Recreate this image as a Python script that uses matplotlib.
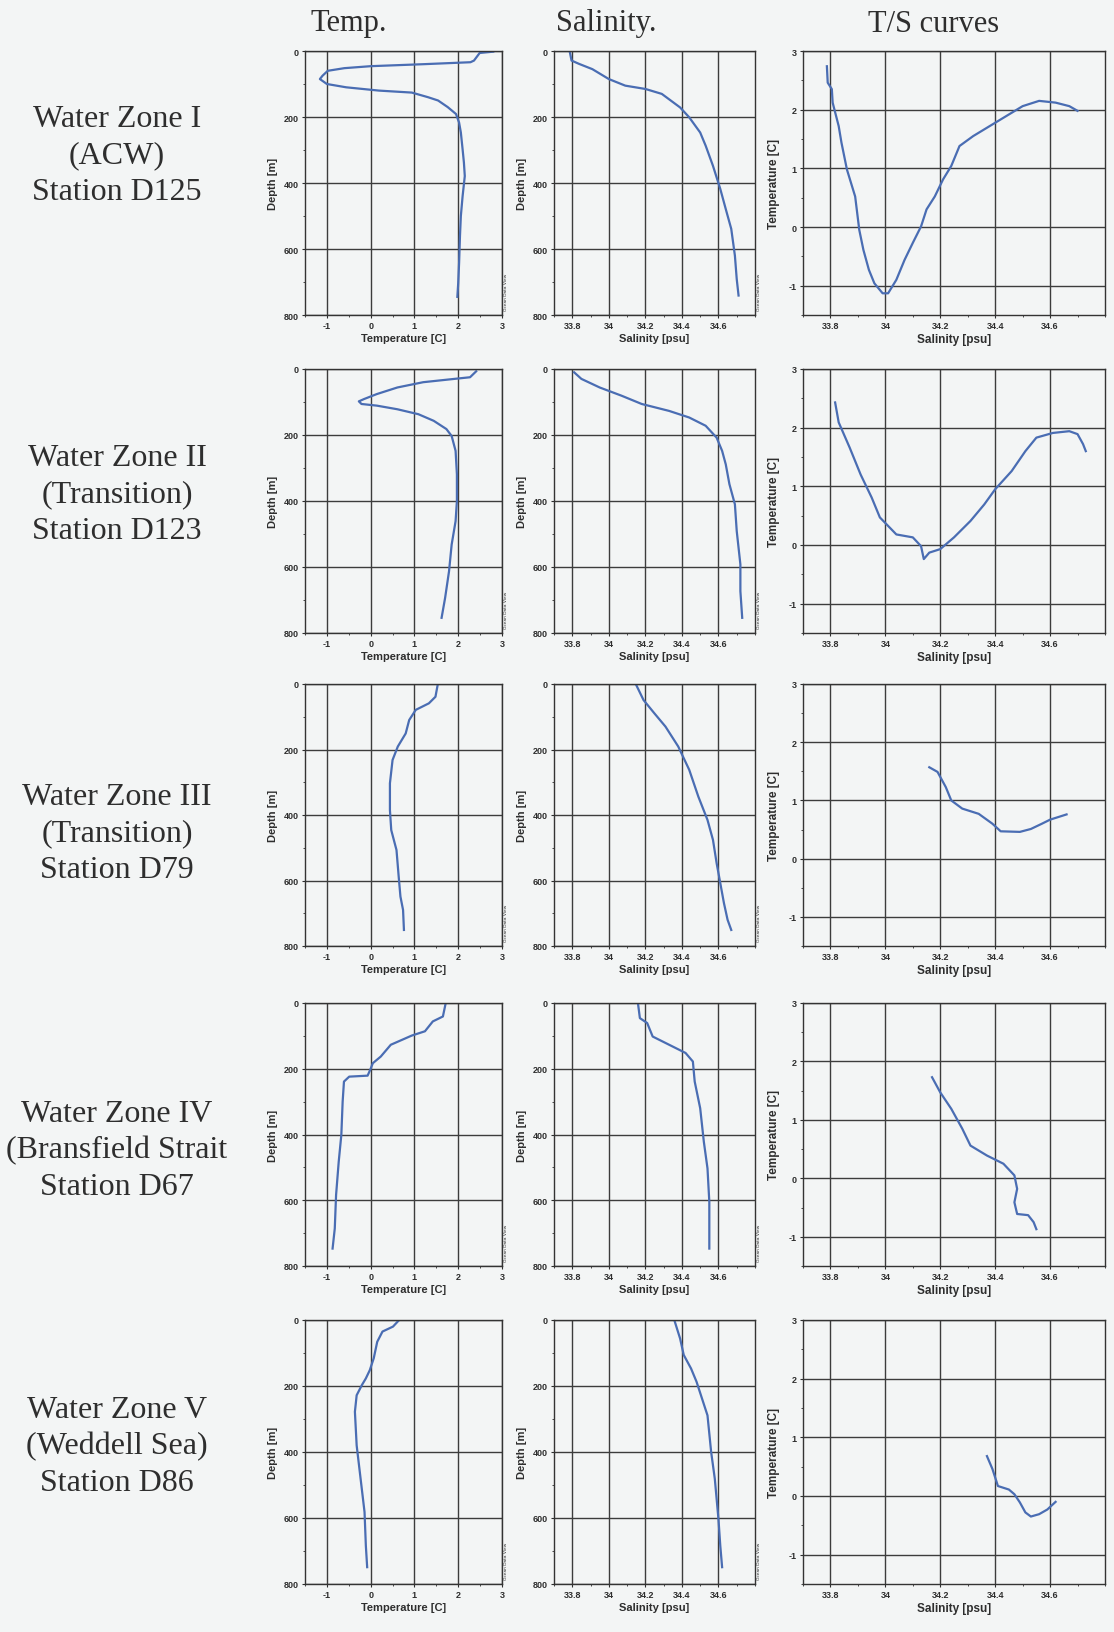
import matplotlib
matplotlib.use("Agg")
import matplotlib.pyplot as plt
from matplotlib.ticker import MultipleLocator

plt.rcParams["axes.unicode_minus"] = False

# ---------------- data ----------------
row_labels = [
    "Water Zone I\n(ACW)\nStation D125",
    "Water Zone II\n(Transition)\nStation D123",
    "Water Zone III\n(Transition)\nStation D79",
    "Water Zone IV\n(Bransfield Strait\nStation D67",
    "Water Zone V\n(Weddell Sea)\nStation D86",
]
col_titles = ["Temp.", "Salinity.", "T/S curves"]

temp_ticks = [-1, 0, 1, 2, 3]
depth_ticks = [0, 200, 400, 600, 800]
sal_ticks = [33.8, 34.0, 34.2, 34.4, 34.6]
sal_tick_labels = ["33.8", "34", "34.2", "34.4", "34.6"]
ts_temp_ticks = [-1, 0, 1, 2, 3]

# Row 1 - Station D125
t1_T = [2.80, 2.49, 2.36, 2.28, 1.20, 0.00, -0.60, -0.98, -1.10, -1.16, -1.00, -0.56, 0.19, 0.94, 1.31, 1.54, 1.76, 1.95, 2.02, 2.06, 2.10, 2.13, 2.15, 2.10, 2.06, 2.04, 2.02, 2.00, 1.98]
t1_d = [2, 6, 29, 34, 40, 46, 52, 60, 75, 85, 100, 110, 120, 126, 140, 150, 170, 191, 217, 247, 298, 338, 379, 440, 500, 561, 642, 703, 745]
s1_S = [33.787, 33.796, 33.837, 33.91, 34.0, 34.09, 34.2, 34.29, 34.39, 34.44, 34.5, 34.53, 34.57, 34.61, 34.64, 34.67, 34.69, 34.70, 34.71]
s1_d = [4, 29, 39, 55, 85, 105, 115, 130, 171, 201, 247, 287, 348, 418, 479, 539, 620, 691, 741]
ts1_S = [33.787, 33.79, 33.805, 33.808, 33.83, 33.84, 33.86, 33.89, 33.905, 33.92, 33.94, 33.96, 33.99, 34.01, 34.04, 34.07, 34.10, 34.13, 34.15, 34.18, 34.21, 34.24, 34.27, 34.32, 34.38, 34.44, 34.50, 34.56, 34.62, 34.67, 34.70]
ts1_T = [2.74, 2.46, 2.35, 2.12, 1.72, 1.44, 0.98, 0.52, -0.05, -0.39, -0.73, -0.96, -1.13, -1.13, -0.90, -0.56, -0.27, 0.01, 0.30, 0.52, 0.81, 1.04, 1.38, 1.55, 1.72, 1.89, 2.06, 2.15, 2.12, 2.06, 1.98]

# Row 2 - Station D123
t2_T = [2.41, 2.27, 1.91, 1.20, 0.61, 0.14, -0.15, -0.27, -0.21, 0.14, 0.61, 1.09, 1.44, 1.73, 1.85, 1.94, 1.97, 1.97, 1.94, 1.85, 1.79, 1.70, 1.62]
t2_d = [7, 25, 30, 40, 56, 76, 91, 98, 106, 111, 122, 137, 157, 182, 203, 248, 319, 400, 461, 532, 613, 694, 754]
s2_S = [33.81, 33.85, 33.95, 34.07, 34.18, 34.33, 34.44, 34.53, 34.59, 34.62, 34.64, 34.66, 34.69, 34.70, 34.72, 34.72, 34.73]
s2_d = [10, 30, 56, 81, 106, 127, 147, 172, 208, 248, 289, 349, 410, 491, 592, 673, 754]
ts2_S = [33.817, 33.83, 33.87, 33.91, 33.95, 33.98, 34.04, 34.10, 34.13, 34.14, 34.16, 34.20, 34.25, 34.31, 34.36, 34.40, 34.46, 34.51, 34.55, 34.61, 34.67, 34.70, 34.72, 34.73]
ts2_T = [2.43, 2.09, 1.66, 1.20, 0.81, 0.47, 0.18, 0.13, -0.02, -0.24, -0.13, -0.07, 0.13, 0.41, 0.69, 0.95, 1.26, 1.60, 1.83, 1.91, 1.94, 1.89, 1.72, 1.60]

# Row 3 - Station D79
t3_T = [1.53, 1.48, 1.33, 1.03, 0.88, 0.80, 0.62, 0.50, 0.44, 0.44, 0.47, 0.59, 0.64, 0.68, 0.74, 0.76]
t3_d = [3, 39, 59, 79, 110, 151, 191, 232, 303, 385, 446, 507, 588, 649, 690, 751]
s3_S = [34.15, 34.19, 34.25, 34.31, 34.38, 34.44, 34.49, 34.54, 34.57, 34.59, 34.61, 34.63, 34.65, 34.67]
s3_d = [3, 49, 90, 130, 191, 262, 344, 415, 476, 547, 608, 669, 720, 751]
ts3_S = [34.16, 34.19, 34.22, 34.24, 34.28, 34.34, 34.39, 34.42, 34.49, 34.53, 34.57, 34.60, 34.66]
ts3_T = [1.57, 1.49, 1.23, 1.00, 0.86, 0.77, 0.60, 0.47, 0.46, 0.51, 0.60, 0.67, 0.76]

# Row 4 - Station D67
t4_T = [1.71, 1.65, 1.42, 1.24, 0.94, 0.46, 0.23, 0.05, -0.01, -0.07, -0.49, -0.61, -0.64, -0.67, -0.73, -0.79, -0.82, -0.87]
t4_d = [3, 41, 56, 86, 99, 127, 163, 183, 203, 221, 224, 239, 300, 401, 483, 584, 686, 747]
s4_S = [34.16, 34.17, 34.21, 34.24, 34.33, 34.42, 34.46, 34.47, 34.50, 34.52, 34.54, 34.55, 34.55]
s4_d = [3, 46, 61, 102, 127, 152, 178, 239, 320, 422, 503, 605, 747]
ts4_S = [34.17, 34.20, 34.24, 34.28, 34.31, 34.37, 34.43, 34.47, 34.48, 34.47, 34.48, 34.52, 34.54, 34.55]
ts4_T = [1.73, 1.47, 1.19, 0.85, 0.56, 0.39, 0.25, 0.05, -0.18, -0.41, -0.61, -0.63, -0.75, -0.87]

# Row 5 - Station D86
t5_T = [0.63, 0.51, 0.27, 0.15, 0.07, -0.02, -0.11, -0.20, -0.32, -0.36, -0.32, -0.23, -0.14, -0.11, -0.08]
t5_d = [3, 20, 35, 66, 116, 152, 177, 197, 228, 278, 380, 481, 582, 684, 749]
s5_S = [34.36, 34.39, 34.41, 34.45, 34.48, 34.51, 34.54, 34.56, 34.58, 34.60, 34.61, 34.62]
s5_d = [3, 56, 106, 147, 187, 238, 289, 400, 481, 603, 684, 749]
ts5_S = [34.37, 34.39, 34.41, 34.45, 34.47, 34.49, 34.51, 34.53, 34.56, 34.59, 34.62]
ts5_T = [0.68, 0.46, 0.17, 0.11, 0.03, -0.11, -0.28, -0.35, -0.31, -0.23, -0.10]

temp_profiles = [(t1_T, t1_d), (t2_T, t2_d), (t3_T, t3_d), (t4_T, t4_d), (t5_T, t5_d)]
sal_profiles = [(s1_S, s1_d), (s2_S, s2_d), (s3_S, s3_d), (s4_S, s4_d), (s5_S, s5_d)]
ts_curves = [(ts1_S, ts1_T), (ts2_S, ts2_T), (ts3_S, ts3_T), (ts4_S, ts4_T), (ts5_S, ts5_T)]

# ---------------- layout / style ----------------
W, H = 1114, 1633
BG = "#f3f5f5"
LINE = "#4a6db3"
GRID = "#3c3c3c"
TXT = "#2e2e2e"

fig = plt.figure(figsize=(W / 100, H / 100), dpi=100, facecolor=BG)

row_tb = [(52, 316), (370, 634), (685, 947), (1004, 1267), (1321, 1585)]
col_lr = [(305, 502), (554, 755), (803, 1105)]
label_y = [156, 495, 834, 1151, 1447]
title_x = [349, 606, 934]

tick_font = dict(family=["Liberation Sans", "DejaVu Sans"], size=6.5, weight="bold")
lab_font = dict(family=["Liberation Sans", "DejaVu Sans"], size=8, weight="bold")


def rect(l, r, t, b):
    return [l / W, 1 - b / H, (r - l) / W, (b - t) / H]


def style(ax):
    ax.set_facecolor(BG)
    for s in ax.spines.values():
        s.set_color("#333333")
        s.set_linewidth(1.0)
    ax.grid(True, which="major", color=GRID, lw=1.0)
    ax.set_axisbelow(True)
    ax.tick_params(which="major", length=2.5, width=0.8, pad=2, colors=TXT)
    ax.tick_params(which="minor", length=1.5, width=0.6, colors=TXT)
    for lab in ax.get_xticklabels() + ax.get_yticklabels():
        lab.set_fontfamily(tick_font["family"])
        lab.set_fontsize(tick_font["size"])
        lab.set_fontweight("bold")


for i in range(5):
    t, b = row_tb[i]
    # temperature profile
    ax = fig.add_axes(rect(*col_lr[0], t, b))
    T, d = temp_profiles[i]
    ax.plot(T, d, color=LINE, lw=1.6)
    ax.set_xlim(-1.5, 3)
    ax.set_ylim(800, 0)
    ax.set_xticks(temp_ticks)
    ax.set_yticks(depth_ticks)
    ax.xaxis.set_minor_locator(MultipleLocator(0.5))
    ax.yaxis.set_minor_locator(MultipleLocator(100))
    ax.set_xlabel("Temperature [C]", fontdict=lab_font, color=TXT, labelpad=2)
    ax.set_ylabel("Depth [m]", fontdict=lab_font, color=TXT, labelpad=4)
    style(ax)
    ax.text(1.01, 0.02, "Ocean Data View", transform=ax.transAxes, rotation=90,
            fontsize=3.2, color=TXT, ha="left", va="bottom")

    # salinity profile
    ax = fig.add_axes(rect(*col_lr[1], t, b))
    S, d = sal_profiles[i]
    ax.plot(S, d, color=LINE, lw=1.6)
    ax.set_xlim(33.7, 34.8)
    ax.set_ylim(800, 0)
    ax.set_xticks(sal_ticks)
    ax.set_xticklabels(sal_tick_labels)
    ax.set_yticks(depth_ticks)
    ax.xaxis.set_minor_locator(MultipleLocator(0.1))
    ax.yaxis.set_minor_locator(MultipleLocator(100))
    ax.set_xlabel("Salinity [psu]", fontdict=lab_font, color=TXT, labelpad=2)
    ax.set_ylabel("Depth [m]", fontdict=lab_font, color=TXT, labelpad=4)
    style(ax)
    ax.text(1.01, 0.02, "Ocean Data View", transform=ax.transAxes, rotation=90,
            fontsize=3.2, color=TXT, ha="left", va="bottom")

    # T/S curve
    ax = fig.add_axes(rect(*col_lr[2], t, b))
    S, T = ts_curves[i]
    ax.plot(S, T, color=LINE, lw=1.6)
    ax.set_xlim(33.7, 34.8)
    ax.set_ylim(-1.5, 3)
    ax.set_xticks(sal_ticks)
    ax.set_xticklabels(sal_tick_labels)
    ax.set_yticks(ts_temp_ticks)
    ax.xaxis.set_minor_locator(MultipleLocator(0.1))
    ax.yaxis.set_minor_locator(MultipleLocator(0.5))
    ax.set_xlabel("Salinity [psu]", fontdict=dict(lab_font, size=8.5), color=TXT, labelpad=2)
    ax.set_ylabel("Temperature [C]", fontdict=dict(lab_font, size=8.5), color=TXT, labelpad=6)
    style(ax)

    # row label
    fig.text(117 / W, 1 - label_y[i] / H, row_labels[i], ha="center", va="center",
             family=["Liberation Serif", "DejaVu Serif"], fontsize=23,
             color=TXT, linespacing=1.32)

for x, title in zip(title_x, col_titles):
    fig.text(x / W, 1 - 24 / H, title, ha="center", va="center",
             family=["Liberation Serif", "DejaVu Serif"], fontsize=22, color=TXT)

fig.savefig("out.png", dpi=100, facecolor=BG)
